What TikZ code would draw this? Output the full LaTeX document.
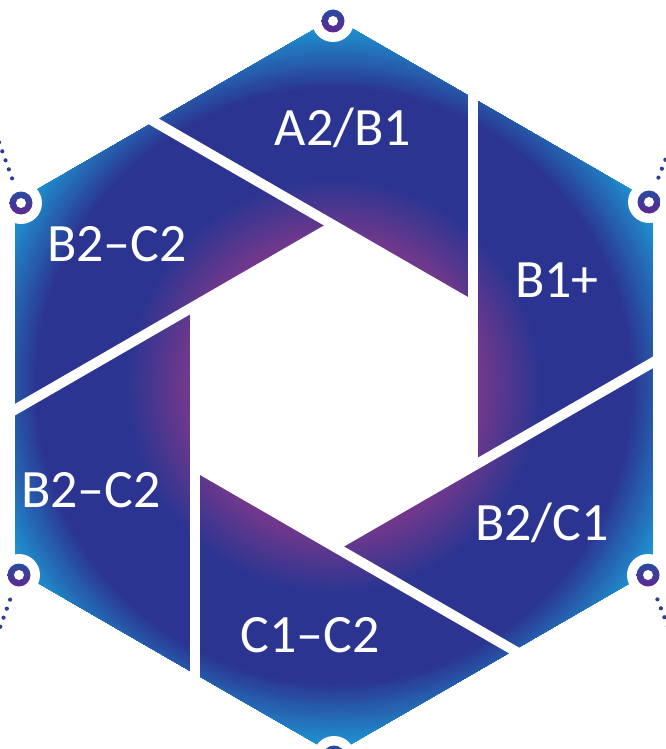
\documentclass[tikz,border=0pt]{standalone}
\usepackage{fontspec}
\setmainfont{Carlito}
\usetikzlibrary{calc}
\definecolor{navy}{RGB}{43,53,145}
\definecolor{purp}{RGB}{112,56,140}
\definecolor{bblue}{RGB}{29,160,218}
\definecolor{ringtop}{RGB}{40,75,160}
\definecolor{ringbot}{RGB}{95,40,145}
\definecolor{dotc}{RGB}{45,62,150}
\begin{document}
\begin{tikzpicture}[x=1pt,y=-1pt,
  lab/.style={text=white, font=\fontsize{54}{60}\selectfont, inner sep=0pt, anchor=base},
  cut/.style={draw=white, line width=10pt},
  halo/.style={fill=white},
  ringshade/.style={top color=ringtop, bottom color=ringbot},
  dotmark/.style={fill=dotc}]
\useasboundingbox (0,0) rectangle (666,749);
\coordinate (O) at (334,386);
\path (334,18) coordinate (vT) (652.7,202) coordinate (vUR) (652.7,570) coordinate (vLR)
      (334,754) coordinate (vB) (15.3,570) coordinate (vLL) (15.3,202) coordinate (vUL);
% radial gradient fill of the hexagon
\begin{scope}
\clip (vT)--(vUR)--(vLR)--(vB)--(vLL)--(vUL)--cycle;
\foreach \r in {384,382,...,138}{
  \pgfmathtruncatemacro\tb{max(0,min(100,(\r-298)/70*100))}
  \pgfmathtruncatemacro\tp{max(0,min(100,(208-\r)/58*100))}
  \colorlet{cA}{bblue!\tb!navy}
  \colorlet{cB}{purp!\tp!cA}
  \fill[cB] (O) circle[radius=\r pt];
}
\end{scope}
% shutter cuts
\foreach \k in {0,...,5}{
  \begin{scope}[shift={(O)}, rotate=60*\k]
    \draw[cut] (139,-302) -- (139,80.3);
  \end{scope}
}
% central hole
\fill[white] (473,466.3) -- (334,546.5) -- (195,466.3) -- (195,305.7) -- (334,225.5) -- (473,305.7) -- cycle;
% markers
\path (333,21) coordinate (mT) (649,202) coordinate (mUR) (648,575) coordinate (mLR)
      (334,757) coordinate (mB) (19,575) coordinate (mLL) (21,203) coordinate (mUL);
\foreach \m/\dx/\dy in {mUL/-0.34/-0.94, mUR/0.36/-0.93, mLL/-0.34/0.94, mLR/0.36/0.93}{
  \foreach \d in {16.6,26.2,...,100}{
    \fill[dotmark] ($(\m)+({\dx*\d},{\dy*\d})$) circle[radius=2.1pt];
  }
}
\foreach \m in {mT,mUR,mLR,mB,mLL,mUL}{
  \fill[halo] (\m) circle[radius=21pt];
  \shade[ringshade] (\m) circle[radius=11.5pt];
  \fill[white] (\m) circle[radius=5pt];
}
% labels
\node[lab] (a2b1) at (343,145) {A2/B1};
\node[lab] (b2c2a) at (117,261) {B2–C2};
\node[lab] (b1p) at (557,297) {B1+};
\node[lab] (b2c2b) at (91,507) {B2–C2};
\node[lab] (b2c1) at (542,540) {B2/C1};
\node[lab] (c1c2) at (310,652) {C1–C2};
\end{tikzpicture}
\end{document}
